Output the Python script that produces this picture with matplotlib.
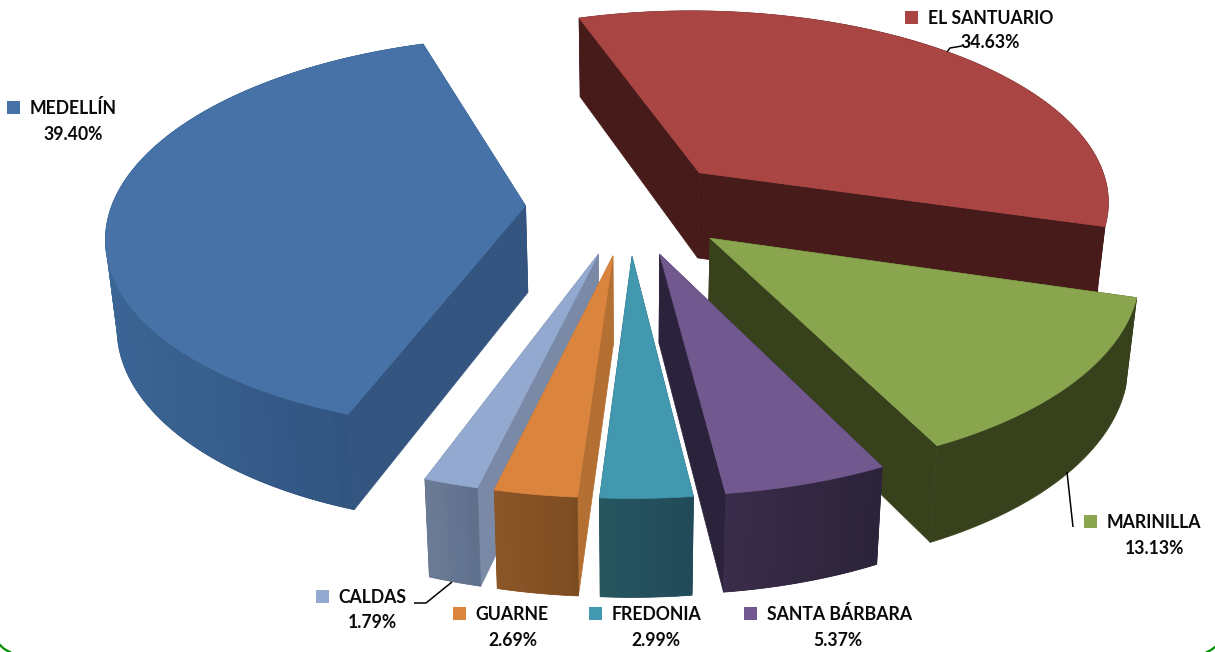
import numpy as np
import matplotlib
matplotlib.use("Agg")
import matplotlib.pyplot as plt
from matplotlib.patches import Polygon, Rectangle
from matplotlib.colors import to_rgb

# ---- data (clockwise, starting with the first slice) ----
categories = ["MEDELLÍN", "EL SANTUARIO", "MARINILLA", "SANTA BÁRBARA", "FREDONIA", "GUARNE", "CALDAS"]
shares = [39.40, 34.63, 13.13, 5.37, 2.99, 2.69, 1.79]
share_labels = ["39.40%", "34.63%", "13.13%", "5.37%", "2.99%", "2.69%", "1.79%"]

# ---- style ----
top_colors = ["#4672A7", "#A94543", "#89A54E", "#71588F", "#4198AF", "#DB843D", "#93A9CF"]
radial_colors = ["#34557F", "#471B1A", "#37421C", "#2B233B", "#23505E", "#B46F33", "#7989A6"]
wall_left = ["#3B6595", "#471B1A", "#37421C", "#3A2D4B", "#26565F", "#8C5628", "#6C7C96"]
wall_right = ["#2F4F79", "#471B1A", "#37421C", "#2B2339", "#224A58", "#7C4C21", "#5E6F8C"]
draw_order = [1, 0, 2, 6, 5, 4, 3]

START_ANGLE = 199.9
CX, CY = 629.0, 206.5
A, B, K = 414.0, 193.0, 0.139
EXPLODE = 0.25
BANDS = 90


def project(x, y):
    w = 1 - K * y
    return CX + A * x / w, CY + B * y / w


def to_bottom(sx, sy):
    return CX + 0.978 * (sx - CX), 78 + 1.042 * sy


def mix(c1, c2, t):
    a, b = np.array(to_rgb(c1)), np.array(to_rgb(c2))
    return tuple(a + (b - a) * t)


fig = plt.figure(figsize=(12.15, 6.52), dpi=100, facecolor="white")
ax = fig.add_axes([0, 0, 1, 1])
ax.set_xlim(0, 1215)
ax.set_ylim(652, 0)
ax.axis("off")

spans = np.array(shares) / sum(shares) * 360
starts = START_ANGLE + np.concatenate([[0], np.cumsum(spans)[:-1]])


def poly(pts, color, z, lw=0.5):
    ax.add_patch(Polygon(pts, closed=True, facecolor=color, edgecolor=color, lw=lw, zorder=z))


for rank, i in enumerate(draw_order):
    t0, t1 = starts[i], starts[i] + spans[i]
    mid = np.radians((t0 + t1) / 2)
    ox, oy = EXPLODE * np.sin(mid), -EXPLODE * np.cos(mid)
    th = np.radians(np.linspace(t0, t1, 361))
    rx, ry = project(ox + np.sin(th), oy - np.cos(th))
    ax0, ay0 = project(ox, oy)
    bx, by = to_bottom(rx, ry)
    abx, aby = to_bottom(ax0, ay0)
    z = 2 + rank

    # radial faces: the one further from the viewer goes first
    faces = [
        (ry[0], [(ax0, ay0), (rx[0], ry[0]), (bx[0], by[0]), (abx, aby)]),
        (ry[-1], [(ax0, ay0), (rx[-1], ry[-1]), (bx[-1], by[-1]), (abx, aby)]),
    ]
    for _, pts in sorted(faces, key=lambda f: f[0]):
        poly(pts, radial_colors[i], z)

    # outer wall: one solid band first, then the horizontal shading as overlapping steps
    poly(np.vstack([np.column_stack([rx, ry]), np.column_stack([bx, by])[::-1]]),
         mix(wall_left[i], wall_right[i], 0.5), z, lw=0.5)
    if wall_left[i] != wall_right[i]:
        span_x = rx.max() - rx.min()
        edges = np.linspace(0, len(th) - 1, min(BANDS, max(8, int(span_x / 5))) + 1).astype(int)
        for a, b in zip(edges[:-1], edges[1:]):
            t = (0.5 * (rx[a] + rx[b]) - rx.min()) / span_x
            seg = np.arange(a, min(b + 6, len(th)))
            poly(np.vstack([np.column_stack([rx[seg], ry[seg]]),
                            np.column_stack([bx[seg], by[seg]])[::-1]]),
                 mix(wall_left[i], wall_right[i], t), z, lw=0)

    # top face
    poly(np.vstack([[ax0, ay0], np.column_stack([rx, ry])]), top_colors[i], z + 0.5)

# ---- labels ----
FS = 12.7
key_xy = {
    "MEDELLÍN": (7, 101), "EL SANTUARIO": (905, 11), "MARINILLA": (1084, 515),
    "SANTA BÁRBARA": (744, 607), "FREDONIA": (589, 607), "GUARNE": (453, 607), "CALDAS": (316, 590),
}
value_xy = {
    "MEDELLÍN": (73, 134), "EL SANTUARIO": (990, 43), "MARINILLA": (1154, 548),
    "SANTA BÁRBARA": (838, 640), "FREDONIA": (656, 640), "GUARNE": (513, 640), "CALDAS": (372, 623),
}
for i, name in enumerate(categories):
    kx, ky = key_xy[name]
    ax.add_patch(Rectangle((kx, ky), 12.5, 12.5, facecolor=top_colors[i], edgecolor="none", zorder=20))
    ax.text(kx + 22.6, ky + 7.5, name, ha="left", va="center", fontsize=FS, fontweight="bold",
            color="#0a0a0a", family="Lato", zorder=21)
    vx, vy = value_xy[name]
    ax.text(vx, vy, share_labels[i], ha="center", va="center", fontsize=FS, fontweight="bold",
            color="#0a0a0a", family="Lato", zorder=21)

# ---- leader lines ----
for xs, ys in [([414, 426, 452], [603, 603, 582]),
               ([1067, 1073], [472, 527]),
               ([947, 950, 962], [52, 48, 46])]:
    ax.plot(xs, ys, color="black", lw=1.1, zorder=19, solid_capstyle="butt")

# ---- corners of the rounded frame ----
ax.plot([0, 3, 6, 10], [645, 648, 650, 652], color="#009000", lw=1.6, zorder=30, clip_on=True)
ax.plot([1207, 1211, 1215], [652, 650, 647], color="#009000", lw=1.6, zorder=30, clip_on=True)

fig.savefig("out.png", dpi=100, facecolor="white")
